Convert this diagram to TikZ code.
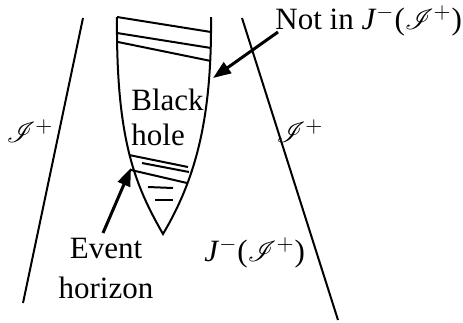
\documentclass[tikz,border=0pt]{standalone}
\usepackage{fontspec}
\setmainfont{Liberation Serif}
\usepackage{mathrsfs}
\usetikzlibrary{arrows.meta}
\newcommand{\scri}{\mathscr{I}}
\tikzset{edge/.style={line width=1pt},
 pointer/.style={-{Triangle[length=9pt,width=6.5pt]},line width=1.5pt},
 every node/.style={font=\fontsize{15.5}{17.5}\selectfont,inner sep=0pt}}
\begin{document}
\begin{tikzpicture}[x=0.5pt,y=-0.5pt]
\useasboundingbox (0,0) rectangle (463,323);
\draw[edge] (83,18)--(23,303);
\draw[edge] (242,18)--(338,320);
\draw[edge] (117,17) .. controls (116,140) and (135,185) .. (163,234)
 .. controls (195,180) and (212,120) .. (211,17);
\draw[edge] (117,17)--(211,32);
\draw[edge] (117,33)--(211,48);
\draw[edge] (118,42)--(211,61);
\draw[edge] (129,155)--(188,167);
\draw[edge] (142,163)--(189,172);
\draw[edge] (131,170)--(187,183);
\draw[edge] (148,187)--(173,188);
\draw[edge] (155,200)--(173,200);
\coordinate (hrtip) at (213,78);
\coordinate (ehtip) at (131,168);
\node[align=left,anchor=north west] (bh) at (131,89) {Black\\hole};
\node[align=center,anchor=north] (evt) at (106,238) {Event\\[2.5pt]horizon};
\node[anchor=base west] (notin) at (275,29) {Not in \textit{J}$^{-}$($\scri^{+}$)};
\node[anchor=base west] (past) at (204,261) {\textit{J}$^{-}$($\scri^{+}$)};
\node (scril) at (30,131) {$\scri^{+}$};
\node (scrir) at (300,131) {$\scri^{+}$};
\draw[pointer] ([xshift=1.5pt,yshift=-1.5pt]notin.base west) -- (hrtip);
\draw[pointer] ([xshift=-1.5pt,yshift=2.5pt]evt.north) -- (ehtip);
\end{tikzpicture}
\end{document}
